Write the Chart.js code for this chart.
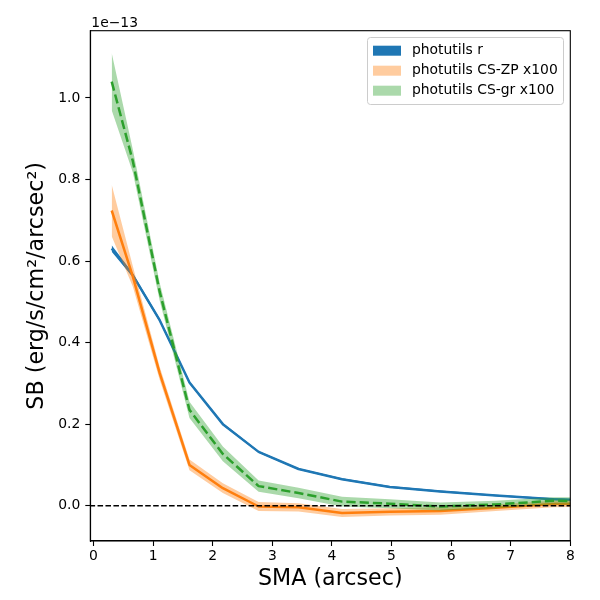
<!DOCTYPE html>
<html>
<head>
<meta charset="utf-8">
<script src="https://cdn.jsdelivr.net/npm/chart.js@4.4.1/dist/chart.umd.min.js"></script>
<style>
  html, body { margin: 0; padding: 0; background: #fff; }
  #wrap { width: 600px; height: 600px; }
</style>
</head>
<body>
<div id="wrap"><canvas id="sb-chart" width="600" height="600"></canvas></div>
<script>
// surface brightness profiles, values in units of 1e-13 erg/s/cm2/arcsec2
const smaArcsec = [0.305, 0.66, 1.11, 1.61, 2.17, 2.77, 3.44, 4.17, 4.97, 5.82, 6.75, 7.72, 8.8];

const sbR    = [0.631, 0.565, 0.455, 0.302, 0.200, 0.132, 0.090, 0.065, 0.046, 0.035, 0.025, 0.016, 0.011];
const sbRErr = [0.008, 0.005, 0.004, 0.003, 0.003, 0.002, 0.002, 0.002, 0.002, 0.002, 0.002, 0.002, 0.002];

const sbZP    = [0.724, 0.562, 0.325, 0.100, 0.043, -0.002, -0.004, -0.018, -0.015, -0.013, -0.005, 0.004, 0.006];
const sbZPErr = [0.063, 0.025, 0.016, 0.013, 0.012, 0.011, 0.010, 0.010, 0.009, 0.009, 0.008, 0.008, 0.008];

const sbGR    = [1.040, 0.845, 0.525, 0.235, 0.127, 0.048, 0.031, 0.010, 0.005, -0.002, 0.003, 0.012, 0.010];
const sbGRErr = [0.070, 0.028, 0.022, 0.020, 0.018, 0.014, 0.013, 0.012, 0.011, 0.010, 0.009, 0.009, 0.009];

const xTicks = [0, 1, 2, 3, 4, 5, 6, 7, 8];
const yTicks = [0.0, 0.2, 0.4, 0.6, 0.8, 1.0];

const zeroLineX = [-1, 9];
const zeroLineY = [0, 0];

const BLUE = "#1f77b4";
const ORANGE = "#ff7f0e";
const GREEN = "#2ca02c";
const FONT = "'DejaVu Sans', sans-serif";

function pts(xs, ys) {
  return xs.map((x, i) => ({ x: x, y: ys[i] }));
}
function lower(v, e) { return v.map((y, i) => y - e[i]); }
function upper(v, e) { return v.map((y, i) => y + e[i]); }

const base = { pointRadius: 0, tension: 0, clip: 0, borderJoinStyle: "round" };

const datasets = [
  { ...base, label: "_r_lo", data: pts(smaArcsec, lower(sbR, sbRErr)), borderWidth: 0, fill: false, order: 9 },
  { ...base, label: "photutils r", legendColor: BLUE, data: pts(smaArcsec, upper(sbR, sbRErr)), borderWidth: 0, fill: "-1", backgroundColor: BLUE, order: 8 },
  { ...base, label: "_r", data: pts(smaArcsec, sbR), borderColor: BLUE, borderWidth: 2.5, fill: false, order: 7 },

  { ...base, label: "_zp_lo", data: pts(smaArcsec, lower(sbZP, sbZPErr)), borderWidth: 0, fill: false, order: 6 },
  { ...base, label: "photutils CS-ZP x100", legendColor: "rgba(255,127,14,0.4)", data: pts(smaArcsec, upper(sbZP, sbZPErr)), borderWidth: 0, fill: "-1", backgroundColor: "rgba(255,127,14,0.4)", order: 5 },
  { ...base, label: "_zp", data: pts(smaArcsec, sbZP), borderColor: ORANGE, borderWidth: 2.5, fill: false, order: 4 },

  { ...base, label: "_gr_lo", data: pts(smaArcsec, lower(sbGR, sbGRErr)), borderWidth: 0, fill: false, order: 3 },
  { ...base, label: "photutils CS-gr x100", legendColor: "rgba(44,160,44,0.4)", data: pts(smaArcsec, upper(sbGR, sbGRErr)), borderWidth: 0, fill: "-1", backgroundColor: "rgba(44,160,44,0.4)", order: 2 },
  { ...base, label: "_gr", data: pts(smaArcsec, sbGR), borderColor: GREEN, borderWidth: 2.5, borderDash: [9.25, 4], fill: false, order: 1 },

  { ...base, label: "_zero", data: pts(zeroLineX, zeroLineY), borderColor: "#000", borderWidth: 1.5, borderDash: [5.55, 2.4], fill: false, order: 0 }
];

// top/right spines, the 1e-13 offset text and the legend box inside the axes
const extras = {
  id: "extras",
  afterDraw(chart) {
    const ctx = chart.ctx;
    const a = chart.chartArea;
    ctx.save();
    ctx.strokeStyle = "#000";
    ctx.lineWidth = 1.1;
    ctx.strokeRect(a.left, a.top, a.right - a.left, a.bottom - a.top);

    ctx.fillStyle = "#000";
    ctx.font = "13.9px " + FONT;
    ctx.textAlign = "left";
    ctx.textBaseline = "alphabetic";
    ctx.fillText("1e\u221213", a.left + 1, a.top - 4);

    // legend
    const items = chart.data.datasets.filter(d => d.legendColor);
    const bx = 367.5, by = 37.5, bw = 196, bh = 67, r = 3;
    ctx.beginPath();
    ctx.moveTo(bx + r, by);
    ctx.arcTo(bx + bw, by, bx + bw, by + bh, r);
    ctx.arcTo(bx + bw, by + bh, bx, by + bh, r);
    ctx.arcTo(bx, by + bh, bx, by, r);
    ctx.arcTo(bx, by, bx + bw, by, r);
    ctx.closePath();
    ctx.fillStyle = "rgba(255,255,255,0.8)";
    ctx.fill();
    ctx.strokeStyle = "#cccccc";
    ctx.lineWidth = 1;
    ctx.stroke();

    ctx.textBaseline = "middle";
    items.forEach((d, i) => {
      const cy = 50.7 + i * 20;
      ctx.fillStyle = d.legendColor;
      ctx.fillRect(373, cy - 5, 28, 10);
      ctx.fillStyle = "#000";
      ctx.fillText(d.label, 412, cy);
    });
    ctx.restore();
  }
};

const ctx = document.getElementById("sb-chart").getContext("2d");

const chart = new Chart(ctx, {
  type: "line",
  data: { datasets: datasets },
  plugins: [extras],
  options: {
    responsive: false,
    animation: false,
    layout: { padding: { left: 0, top: 30.7, right: 29.7, bottom: 0 } },
    plugins: {
      legend: { display: false },
      tooltip: { enabled: false }
    },
    scales: {
      x: {
        type: "linear",
        min: -0.054,
        max: 8,
        afterFit: (s) => { s.height = 59; },
        afterBuildTicks: (s) => { s.ticks = xTicks.map(v => ({ value: v })); },
        grid: { drawOnChartArea: false, drawTicks: true, tickLength: 5, color: "#000", tickWidth: 1.1 },
        border: { display: true, color: "#000", width: 1.1 },
        ticks: {
          color: "#000",
          padding: 2,
          maxRotation: 0,
          font: { family: FONT, size: 13.9 },
          callback: (v) => String(v)
        },
        title: {
          display: true,
          text: "SMA (arcsec)",
          color: "#000",
          font: { family: FONT, size: 22.2 },
          padding: { top: 0, bottom: 7 }
        }
      },
      y: {
        type: "linear",
        min: -0.0866,
        max: 1.165,
        afterFit: (s) => { s.width = 90.3; },
        afterBuildTicks: (s) => { s.ticks = yTicks.map(v => ({ value: v })); },
        grid: { drawOnChartArea: false, drawTicks: true, tickLength: 5, color: "#000", tickWidth: 1.1 },
        border: { display: true, color: "#000", width: 1.1 },
        ticks: {
          color: "#000",
          padding: 5,
          font: { family: FONT, size: 13.9 },
          callback: (v) => Number(v).toFixed(1)
        },
        title: {
          display: true,
          text: "SB (erg/s/cm\u00b2/arcsec\u00b2)",
          color: "#000",
          font: { family: FONT, size: 22.2 },
          padding: { top: 24, bottom: 0 }
        }
      }
    }
  }
});
</script>
</body>
</html>
